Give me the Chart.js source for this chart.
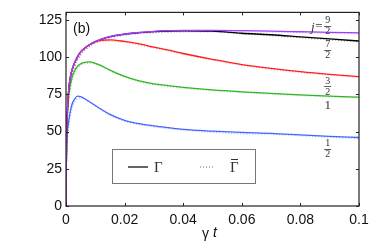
<!DOCTYPE html>
<html>
<head>
<meta charset="utf-8">
<script src="https://cdn.jsdelivr.net/npm/chart.js@4"></script>
<style>
  body { margin: 0; background: #fff; }
</style>
</head>
<body>
<canvas id="myChart" width="382" height="250"></canvas>
<script>
// time axis (gamma t), denser near zero where the curves rise fast
const gt = [0, 0.0002, 0.0005, 0.001, 0.002, 0.003, 0.004, 0.005, 0.006, 0.008, 0.01, 0.012,
  0.015, 0.02, 0.025, 0.03, 0.035, 0.04, 0.05, 0.06, 0.07, 0.08, 0.09, 0.1];

// solid lines (Gamma), one per j
const gam_j12 = [0, 40, 50, 58, 68, 72, 73.8, 73.5, 72.5, 70, 67.5, 65, 61.5, 57.5, 55.3, 53.8, 52.6, 51.5, 50.3, 49.4, 48.8, 47.8, 46.8, 46];
const gam_j1 = [0, 45, 62, 75, 86, 91, 94, 95.5, 96.3, 96.8, 95.8, 94.3, 91.2, 87, 84, 82, 80.8, 79.7, 78, 76.7, 75.6, 74.6, 73.8, 73.1];
const gam_j32 = [0, 45, 65, 80, 91, 96.5, 100.5, 103.5, 105.5, 108.3, 110.3, 111.3, 111.6, 110.5, 108.8, 106.7, 104.6, 102.4, 98.5, 95, 92.4, 90.2, 88.4, 86.9];
const gam_j72 = [0, 45, 65, 80, 91, 96.5, 100.5, 103.5, 105.5, 108.3, 110.4, 111.9, 113.7, 115.4, 116.4, 117.1, 117.5, 117.6, 117.4, 116, 115, 113.6, 112.2, 110.8];
const gam_j92 = [0, 45, 65, 80, 91, 96.5, 100.5, 103.5, 105.5, 108.3, 110.5, 112, 113.8, 115.5, 116.5, 117.3, 117.7, 117.9, 117.9, 117.7, 117.4, 117, 116.6, 116.3];

// dotted lines (Gamma bar)
const gbar_j12 = [0, 35, 46, 55, 65.5, 70, 72, 72.5, 72, 69.8, 67, 64.5, 61, 57, 54.7, 53.2, 52, 51, 49.5, 48.6, 48.2, 47.2, 46.2, 45.4];
const gbar_j1 = [0, 40, 57, 71, 83, 89, 92.5, 94.3, 95.3, 96, 95.3, 93.8, 90.8, 86.5, 83.5, 81.5, 80.2, 79.2, 77.5, 76.2, 75.1, 74.1, 73.3, 72.6];
const gbar_j32 = [0, 40, 60, 76, 88, 94, 98.5, 101.5, 104, 107.3, 109.5, 110.5, 110.8, 109.9, 108.2, 106.2, 104.1, 101.9, 98, 94.5, 91.9, 89.7, 87.9, 86.4];
const gbar_j72 = [0, 40, 60, 76, 88, 94, 98.5, 101.5, 104, 107.3, 109.6, 111.2, 113, 114.8, 115.8, 116.4, 116.8, 117, 117, 115.5, 114.4, 113, 111.6, 110.2];
const gbar_j92 = [0, 40, 60, 76, 88, 94, 98.5, 101.5, 104, 107.3, 109.6, 111.2, 113, 114.8, 115.9, 116.6, 117, 117.2, 117.2, 117, 116.8, 116.4, 116, 115.7];

const xTicks = [0, 0.02, 0.04, 0.06, 0.08, 0.1];
const yTicks = [0, 25, 50, 75, 100, 125];

// curve labels at right: numerator, denominator (null = plain number), y value where it sits
const curveLabels = [
  { num: "9", den: "2", y: 121, prefix: true },
  { num: "7", den: "2", y: 105 },
  { num: "3", den: "2", y: 80.5 },
  { num: "1", den: null, y: 67.5 },
  { num: "1", den: "2", y: 38.5 },
];

function pts(ys) {
  return gt.map((x, i) => ({ x: x, y: ys[i] }));
}

function solid(ys, color, order) {
  return { data: pts(ys), borderColor: color, borderWidth: 1.3, pointRadius: 0, order: order,
    cubicInterpolationMode: "monotone" };
}
function dotted(ys, color, order) {
  return { data: pts(ys), borderColor: color, borderWidth: 1.3, pointRadius: 0, order: order,
    borderDash: [1, 2], cubicInterpolationMode: "monotone" };
}

const SANS = "'Liberation Sans', Arial, sans-serif";
const SERIF = "'Liberation Serif', 'Times New Roman', serif";

// box, inward ticks, axis title, legend and curve labels
const framePlugin = {
  id: "frame",
  afterDatasetsDraw(chart) {
    const ctx = chart.ctx;
    const a = chart.chartArea;
    const xs = chart.scales.x, ys = chart.scales.y;
    ctx.save();
    ctx.strokeStyle = "#222";
    ctx.lineWidth = 1.2;
    ctx.strokeRect(a.left, a.top, a.right - a.left, a.bottom - a.top);
    ctx.lineWidth = 1;
    ctx.beginPath();
    xTicks.forEach(v => {
      const p = Math.round(xs.getPixelForValue(v)) + 0.5;
      ctx.moveTo(p, a.bottom); ctx.lineTo(p, a.bottom - 3);
      ctx.moveTo(p, a.top); ctx.lineTo(p, a.top + 3);
    });
    yTicks.forEach(v => {
      const p = Math.round(ys.getPixelForValue(v)) + 0.5;
      ctx.moveTo(a.left, p); ctx.lineTo(a.left + 3, p);
      ctx.moveTo(a.right, p); ctx.lineTo(a.right - 3, p);
    });
    ctx.stroke();

    // panel tag
    ctx.fillStyle = "#111";
    ctx.font = "14px " + SANS;
    ctx.textBaseline = "middle";
    ctx.textAlign = "left";
    ctx.fillText("(b)", 73, 29);

    // x axis title: gamma t
    ctx.font = "14px " + SANS;
    ctx.fillText("γ", 202, 234);
    ctx.font = "italic 14px " + SANS;
    ctx.fillText("t", 213, 233);

    // curve labels
    const lx = xs.getPixelForValue(0.0893);
    curveLabels.forEach(l => {
      const cy = ys.getPixelForValue(l.y);
      ctx.fillStyle = "#333";
      ctx.textAlign = "center";
      if (l.den) {
        ctx.font = "10px " + SERIF;
        ctx.fillText(l.num, lx, cy - 5);
        ctx.fillText(l.den, lx, cy + 6);
        ctx.strokeStyle = "#333";
        ctx.lineWidth = 0.8;
        ctx.beginPath();
        ctx.moveTo(lx - 3.5, Math.round(cy) + 0.5);
        ctx.lineTo(lx + 3.5, Math.round(cy) + 0.5);
        ctx.stroke();
      } else {
        ctx.font = "13px " + SERIF;
        ctx.fillText(l.num, lx, cy);
      }
      if (l.prefix) {
        ctx.textAlign = "right";
        ctx.font = "italic 13px " + SERIF;
        ctx.fillText("j", lx - 13, cy + 2);
        ctx.font = "13px " + SERIF;
        ctx.fillText("=", lx - 5, cy + 1);
      }
    });

    // legend
    ctx.fillStyle = "#fff";
    ctx.fillRect(112, 149.5, 143, 34);
    ctx.strokeStyle = "#777";
    ctx.lineWidth = 1;
    ctx.strokeRect(112.5, 149.5, 143, 34);
    ctx.strokeStyle = "#111";
    ctx.lineWidth = 1.3;
    ctx.beginPath();
    ctx.moveTo(128, 167); ctx.lineTo(148, 167);
    ctx.stroke();
    ctx.strokeStyle = "#999";
    ctx.setLineDash([1, 2]);
    ctx.beginPath();
    ctx.moveTo(200, 167); ctx.lineTo(214, 167);
    ctx.stroke();
    ctx.setLineDash([]);
    ctx.fillStyle = "#333";
    ctx.font = "15px " + SERIF;
    ctx.textAlign = "left";
    ctx.fillText("Γ", 154, 168);
    ctx.fillText("Γ", 230, 168);
    // bar over the second Gamma
    ctx.strokeStyle = "#333";
    ctx.lineWidth = 1;
    ctx.beginPath();
    ctx.moveTo(231, 159.5); ctx.lineTo(238, 159.5);
    ctx.stroke();
    ctx.restore();
  }
};

const ctx = document.getElementById("myChart").getContext("2d");
const myChart = new Chart(ctx, {
  type: "line",
  data: {
    datasets: [
      dotted(gbar_j12, "rgba(120,140,255,0.75)", 10),
      dotted(gbar_j1, "rgba(100,200,90,0.75)", 9),
      dotted(gbar_j32, "rgba(255,110,110,0.75)", 8),
      dotted(gbar_j72, "rgba(120,120,120,0.75)", 7),
      dotted(gbar_j92, "rgba(190,130,255,0.75)", 6),
      solid(gam_j12, "rgb(70,100,255)", 5),
      solid(gam_j1, "rgb(50,180,40)", 4),
      solid(gam_j72, "rgb(0,0,0)", 3),
      solid(gam_j32, "rgb(255,30,30)", 2),
      solid(gam_j92, "rgb(160,60,255)", 1),
    ],
  },
  options: {
    responsive: false,
    animation: false,
    devicePixelRatio: 1,
    layout: { padding: { left: 0, top: 12, right: 23, bottom: 0 } },
    plugins: { legend: { display: false }, tooltip: { enabled: false } },
    scales: {
      x: {
        type: "linear",
        min: 0,
        max: 0.1,
        grid: { display: false, drawTicks: false, tickLength: 0 },
        border: { display: false },
        afterBuildTicks: s => { s.ticks = xTicks.map(v => ({ value: v })); },
        afterFit: s => { s.height = 44; },
        ticks: {
          color: "#111",
          padding: 6,
          maxRotation: 0,
          font: { family: SANS, size: 14 },
          callback: v => String(Number(v.toFixed(2))),
        },
      },
      y: {
        type: "linear",
        min: 0,
        max: 130,
        grid: { display: false, drawTicks: false, tickLength: 0 },
        border: { display: false },
        afterBuildTicks: s => { s.ticks = yTicks.map(v => ({ value: v })); },
        afterFit: s => { s.width = 66; },
        ticks: {
          color: "#111",
          padding: 4,
          font: { family: SANS, size: 14 },
        },
      },
    },
  },
  plugins: [framePlugin],
});
</script>
</body>
</html>
